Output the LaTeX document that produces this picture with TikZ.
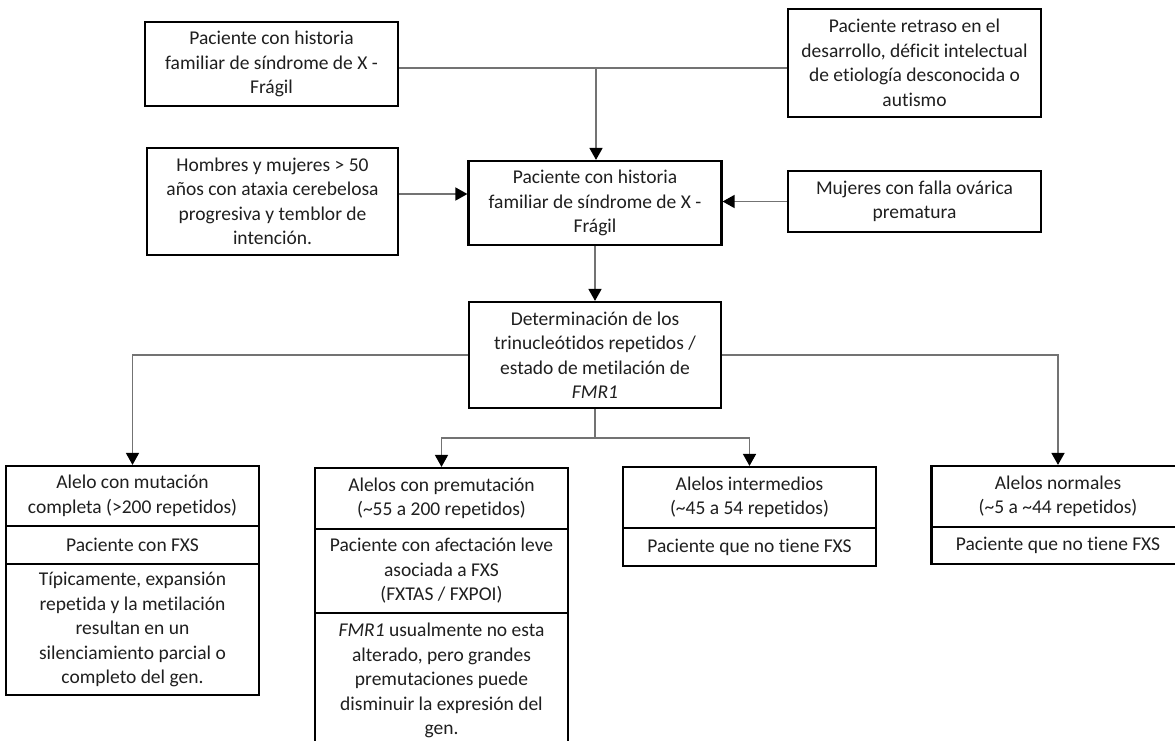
\documentclass[tikz,border=0pt]{standalone}
\usepackage{fontspec}
\setmainfont{Carlito}[Ligatures={NoCommon}]
\usetikzlibrary{arrows.meta,calc}
\begin{document}
\begin{tikzpicture}[x=1pt,y=-1pt,
  box/.style={draw=black, line width=2.2pt, fill=white, text=black!88, align=center,
    minimum width=253pt, inner sep=3pt, font=\fontsize{19.5}{24.5}\selectfont},
  conn/.style={draw=black!55, line width=1.6pt},
  arr/.style={conn, -{Triangle[width=13pt,length=12pt,color=black]}}
]
\useasboundingbox (0,0) rectangle (1175,740);
\clip (0,0) rectangle (1175,740);
\fill[white] (0,0) rectangle (1175,740);

% top row
\node[box, minimum height=84pt] (A) at (271.5,64) {Paciente con historia\\familiar de síndrome de X -\\Frágil};
\node[box, minimum height=108pt] (B) at (914.5,63) {Paciente retraso en el\\desarrollo, déficit intelectual\\de etiología desconocida o\\autismo};
\coordinate (jt) at (596,68);

% middle row
\node[box, minimum height=84pt] (C) at (595,203) {Paciente con historia\\familiar de síndrome de X -\\Frágil};
\node[box, minimum height=107pt, minimum width=251pt] (D) at (272.5,201.5) {Hombres y mujeres > 50\\años con ataxia cerebelosa\\progresiva y temblor de\\intención.};
\node[box, minimum height=61pt] (E) at (914.5,201.5) {Mujeres con falla ovárica\\prematura};
\coordinate (dc) at ([yshift=7.5pt]D.east);

% determination
\node[box, minimum height=106pt, minimum width=252pt] (F) at (595,355) {Determinación de los\\trinucleótidos repetidos /\\estado de metilación de\\\textit{FMR1}};

% bottom: full mutation
\node[box, minimum height=60pt] (G1) at (132.5,496) {Alelo con mutación\\completa (>200 repetidos)};
\node[box, minimum height=38pt] (G2) at (132.5,545) {Paciente con FXS};
\node[box, minimum height=131pt] (G3) at (132.5,629.5) {Típicamente, expansión\\repetida y la metilación\\resultan en un\\silenciamiento parcial o\\completo del gen.};

% premutation
\node[box, minimum height=61pt] (H1) at (441.5,498.5) {Alelos con premutación\\(\textasciitilde 55 a 200 repetidos)};
\node[box, minimum height=84pt] (H2) at (441.5,571) {Paciente con afectación leve\\asociada a FXS\\(FXTAS / FXPOI)};
\node[box, minimum height=135pt] (H3) at (441.5,680.5) {\textit{FMR1} usualmente no esta\\alterado, pero grandes\\premutaciones puede\\disminuir la expresión del\\gen.};

% intermediate
\node[box, minimum height=61pt] (I1) at (749.5,497.5) {Alelos intermedios\\(\textasciitilde 45 a 54 repetidos)};
\node[box, minimum height=38pt] (I2) at (749.5,547) {Paciente que no tiene FXS};

% normal
\node[box, minimum height=61pt] (J1) at (1058,496.5) {Alelos normales\\(\textasciitilde 5 a \textasciitilde 44 repetidos)};
\node[box, minimum height=37pt] (J2) at (1058,545.5) {Paciente que no tiene FXS};

% connectors
\draw[conn] (A.east |- jt) -- (B.west |- jt);
\draw[arr] (jt) -- (C.north -| jt);
\draw[arr] (dc) -- (C.west |- dc);
\draw[arr] (E.west) -- (C.east |- E.west);
\draw[arr] (C.south) -- (F.north);
\draw[arr] (F.west) -| (G1.north);
\draw[arr] (F.east) -| (J1.north);
\draw[arr] (F.south) -- ++(0,29) -| (H1.north);
\draw[arr] (F.south) -- ++(0,29) -| (I1.north);
\end{tikzpicture}
\end{document}
